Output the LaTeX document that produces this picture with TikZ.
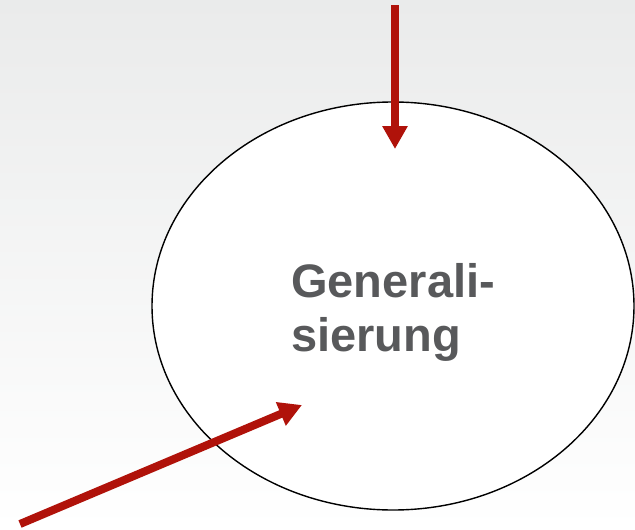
\documentclass[tikz,border=0pt]{standalone}
\usepackage{fontspec}
\setmainfont{Liberation Sans}
\usetikzlibrary{arrows.meta,shapes.geometric}
\definecolor{arrowred}{RGB}{176,18,10}
\definecolor{textgray}{RGB}{88,89,91}
\definecolor{bgtop}{RGB}{234,235,235}
\tikzset{
  redarrow/.style={draw=arrowred, line width=8pt,
    -{Triangle[length=23pt,width=24pt]}},
  bubble/.style={ellipse, draw=black, line width=1.4pt, fill=white,
    minimum width=482pt, minimum height=408pt, inner sep=0pt},
  label/.style={align=left, inner sep=0pt, text=textgray,
    font=\bfseries\fontsize{47}{54}\selectfont}
}
\begin{document}
\begin{tikzpicture}[x=1pt,y=-1pt]
  \shade[top color=bgtop, bottom color=white, use as bounding box] (0,0) rectangle (635,530);
  \node[bubble] (ell) at (393,306) {};
  \node[label, anchor=north west] (txt) at (291,263) {Generali-\\sierung};
  \coordinate (s1) at (395,5);
  \coordinate (e1) at (395,149);
  \coordinate (s2) at (20,524);
  \coordinate (e2) at (302,405);
  \draw[redarrow] (s1) -- (e1);
  \draw[redarrow] (s2) -- (e2);
\end{tikzpicture}
\end{document}
